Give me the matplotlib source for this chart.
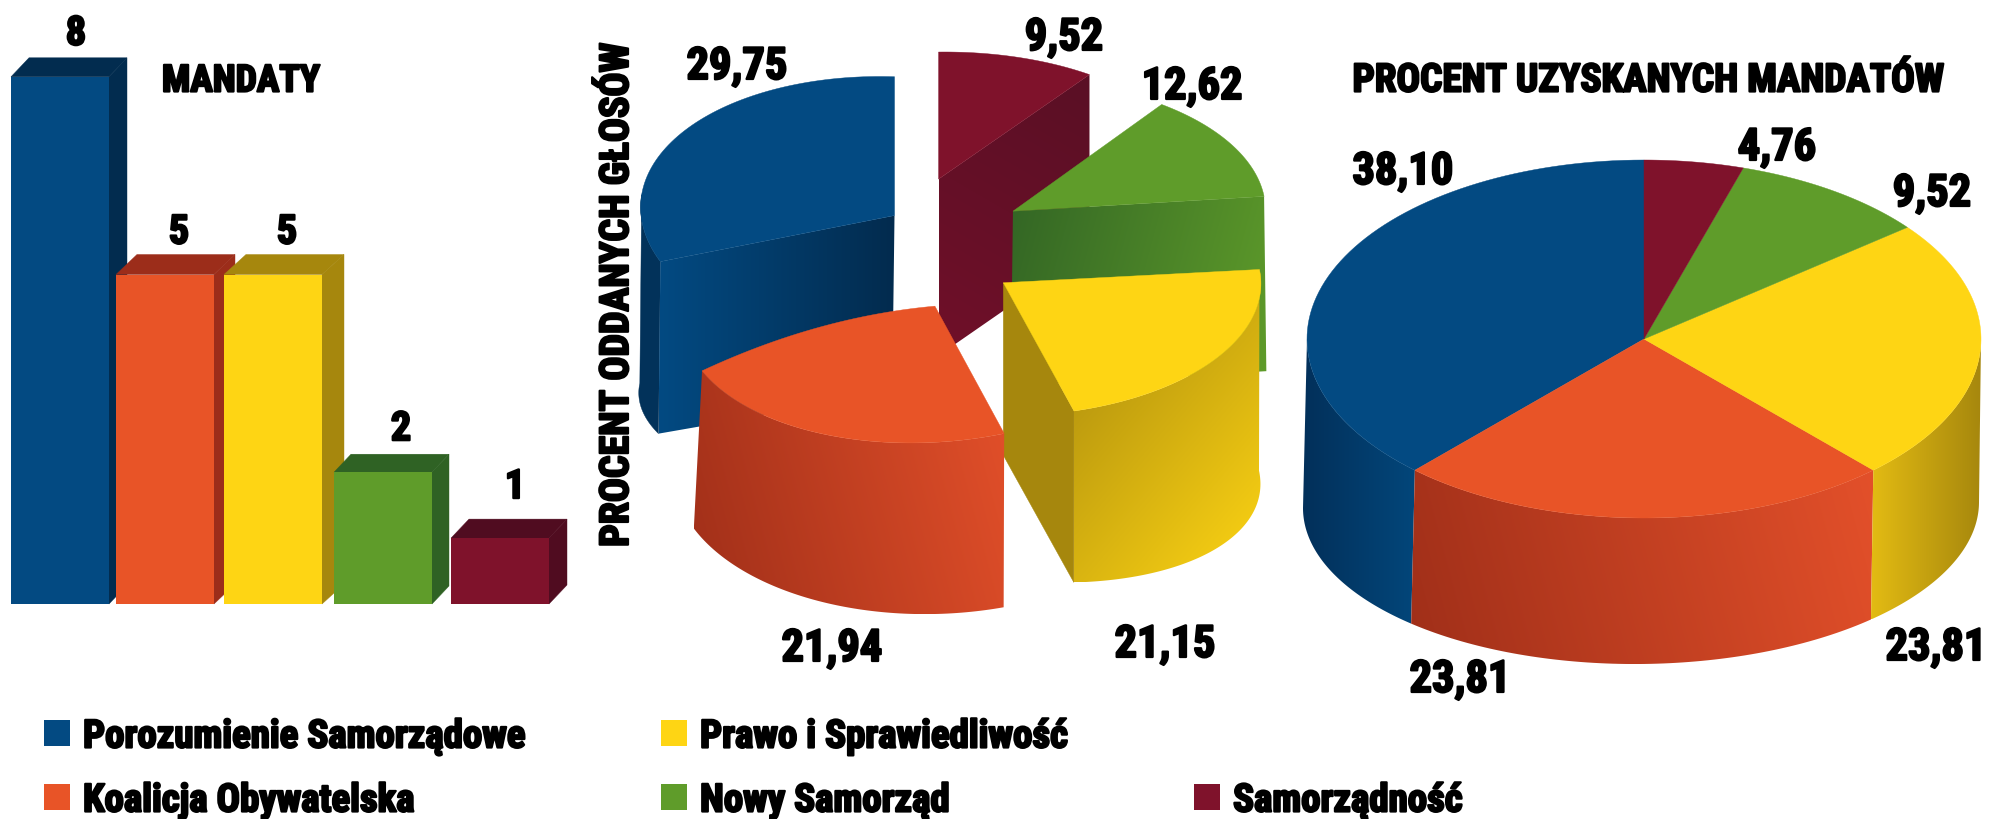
import numpy as np
import matplotlib
matplotlib.use("Agg")
import matplotlib.pyplot as plt
import matplotlib.patheffects as pe
from matplotlib.colors import to_rgb
from matplotlib.patches import Polygon, Rectangle

PARTIES = ["Porozumienie Samorządowe", "Koalicja Obywatelska", "Prawo i Sprawiedliwość", "Nowy Samorząd", "Samorządność"]
SEATS = [8, 5, 5, 2, 1]
VOTES = [29.75, 21.94, 21.15, 12.62, 9.52]
SEAT_PCT = [38.10, 23.81, 23.81, 9.52, 4.76]

COLORS = ["#034a82", "#e85427", "#fed514", "#5f9c2a", "#7f122b"]
DARK = ["#022c4f", "#9c2d1a", "#a6870d", "#2f6224", "#500c20"]

FONT = ["Roboto Condensed", "Liberation Sans"]
BLACK = [pe.withStroke(linewidth=1.6, foreground="black")]

fig = plt.figure(figsize=(20.04, 8.19), dpi=100)
ax = fig.add_axes([0, 0, 1, 1])
z = [10]


def nz():
    z[0] += 1
    return z[0]


def label(x, y, s, size=32, **kw):
    ax.text(x, y, s, fontsize=size, family=FONT, fontweight="bold", color="black",
            ha="center", va="center", path_effects=BLACK, zorder=500, **kw)


def flat(pts, color):
    ax.add_patch(Polygon(pts, closed=True, fc=color, ec=color, lw=0.3, zorder=nz()))


def grad(pts, c0, c1, angle=0):
    # linear gradient clipped to a polygon, angle in screen degrees (y down)
    pts = np.asarray(pts)
    x0, y0 = pts.min(axis=0)
    x1, y1 = pts.max(axis=0)
    xx, yy = np.meshgrid(np.linspace(x0, x1, 120), np.linspace(y0, y1, 120))
    g = xx * np.cos(np.radians(angle)) + yy * np.sin(np.radians(angle))
    g = (g - g.min()) / (g.max() - g.min())
    c0, c1 = np.array(to_rgb(c0)), np.array(to_rgb(c1))
    img = c0 + (c1 - c0) * g[..., None]
    zz = nz()
    im = ax.imshow(img, extent=(x0, x1, y1, y0), aspect="auto", interpolation="bilinear", zorder=zz)
    im.set_clip_path(Polygon(pts, closed=True, transform=ax.transData))


def ell(p, t):
    # p = cx, cy, a, b, shear; t clockwise from the top, degrees
    cx, cy, a, b, s = p
    r = np.radians(t)
    return np.column_stack([cx + a * np.sin(r), cy - b * np.cos(r) + s * np.sin(r)])


def arc(p, t0, t1):
    return ell(p, np.linspace(t0, t1, 80))


def side(top, bot, t0, t1):
    return np.vstack([arc(top, t0, t1), arc(bot, t0, t1)[::-1]])


def cut(top, bot, t):
    return np.vstack([ell(top, [t])[0], ell(bot, [t])[0], [bot[0], bot[1]], [top[0], top[1]]])


def face(p, t0, t1, bulge=0):
    pts = arc(p, t0, t1)
    apex = np.array([p[0], p[1]])
    if bulge:
        # the edge from the arc end back to the apex is bowed upwards
        u = np.linspace(0, 1, 30)[:, None]
        ctrl = (pts[-1] + apex) / 2 - [0, bulge]
        edge = (1 - u) ** 2 * pts[-1] + 2 * u * (1 - u) * ctrl + u**2 * apex
        return np.vstack([apex, pts, edge])
    return np.vstack([apex, pts])


def angles(values):
    # clockwise from 12 o'clock, first value ends at the top
    v = np.array(values, dtype=float)
    ends = 360 - np.concatenate([[0], np.cumsum(v)[:-1]]) * 360 / v.sum()
    return ends - v * 360 / v.sum(), ends


# ---- bars ----
BAR_LEFT = [11, 116, 224, 334, 451]
BAR_W = 98
BAR_BASE = 604
UNIT = 65.9
DEPTH = [(18, 19), (21, 20), (22, 20), (17, 18), (18, 19)]
LABEL_DX = [16, 14, 14, 18, 15]
LABEL_DY = [24, 22, 22, 25, 32]
for i, n in enumerate(SEATS):
    x0, x1 = BAR_LEFT[i], BAR_LEFT[i] + BAR_W
    top = BAR_BASE - n * UNIT
    dx, dy = DEPTH[i]
    flat([(x1, top), (x1 + dx, top - dy), (x1 + dx, BAR_BASE - dy), (x1, BAR_BASE)], DARK[i])
    flat([(x0, top), (x0 + dx, top - dy), (x1 + dx, top - dy), (x1, top)], DARK[i])
    ax.add_patch(Rectangle((x0, top), BAR_W, n * UNIT, fc=COLORS[i], ec="none", zorder=nz()))
    label((x0 + x1) / 2 + LABEL_DX[i], top - dy - LABEL_DY[i], str(n), size=29)
label(241, 81, "MANDATY", size=27)

# ---- exploded pie (votes) ----
KX, KY = 2.178, 2.306


def m(cx, cy, a, b, s):
    return (580 + cx / KX, cy / KY, a / KX, b / KY, s / KY)


t0, t1 = angles(VOTES)
# blue
top, bot = m(685, 497, 553, 320, 19), m(680, 906, 552, 243, 0)
flat(side(top, bot, t0[0], t0[0] + 28), "#02325a")
grad(cut(top, bot, t0[0]), "#034a82", "#022b4e", 0)
flat(face(top, t0[0], t1[0]), COLORS[0])
# maroon
top, bot = m(781, 413, 558, 293, -7), m(781, 820, 558, 293, -7)
grad(cut(top, bot, t1[4]), "#5a0f25", "#701029", 120)
flat(face(top, t0[4], t1[4]), COLORS[4])
# green
top, bot = m(943, 487, 550, 303, -2), m(938, 890, 560, 303, -2)
grad(cut(top, bot, t1[3]), "#336625", "#5f9c2a", 15)
flat(face(top, t0[3], t1[3]), COLORS[3])
# yellow
top, bot = m(922, 652, 561, 307, 2), m(922, 1050, 560, 286, 66)
flat(cut(top, bot, t1[2]), DARK[2])
grad(side(top, bot, t0[2], t1[2]), "#a6870d", "#fed514", 40)
flat(face(top, t0[2], t1[2]), COLORS[2])
# orange
top, bot = m(773, 706, 550, 314, -30), m(768, 1079, 564, 337, -10)
grad(side(top, bot, t0[1], t1[1]), "#a02f19", "#e3502a", -15)
flat(face(top, t0[1], t1[1], bulge=22), COLORS[1])

MID_LABELS = [(737, 67), (832, 649), (1165, 645), (1192, 87), (1064, 38)]
for v, (x, y) in zip(VOTES, MID_LABELS):
    label(x, y, f"{v:.2f}".replace(".", ","))
label(617, 295, "PROCENT ODDANYCH GŁOSÓW", size=28.7, rotation=90)

# ---- full pie (seat share) ----
top, bot = (1644, 339, 337, 179, 0), (1641, 505, 338, 159, -3)
t0, t1 = angles(SEAT_PCT)
grad(side(top, bot, t0[0], 270), "#02305a", "#03467a", 0)
grad(side(top, bot, t0[1], t1[1]), "#a02f19", "#e3502a", -15)
grad(side(top, bot, 90, t1[2]), "#a6870d", "#e3bb13", 180)
for i in range(5):
    flat(face(top, t0[i], t1[i]), COLORS[i])

PCT_LABELS = [(1403, 172), (1460, 680), (1936, 648), (1932, 194), (1777, 148)]
for v, (x, y) in zip(SEAT_PCT, PCT_LABELS):
    label(x, y, f"{v:.2f}".replace(".", ","))
label(1648, 81, "PROCENT UZYSKANYCH MANDATÓW", size=28.2)

# ---- legend ----
LEG_POS = [(44, 720), (44, 784), (661, 720), (661, 784), (1194, 784)]
for name, color, (x, y) in zip(PARTIES, COLORS, LEG_POS):
    ax.add_patch(Rectangle((x, y), 26, 26, fc=color, ec="none", zorder=nz()))
    ax.text(x + 39, y + 17, name, fontsize=28, family=FONT, fontweight="bold", color="black",
            ha="left", va="center", path_effects=BLACK, zorder=500)

ax.set_xlim(0, 2004)
ax.set_ylim(819, 0)
ax.axis("off")
fig.savefig("out.png", dpi=100, facecolor="white")
